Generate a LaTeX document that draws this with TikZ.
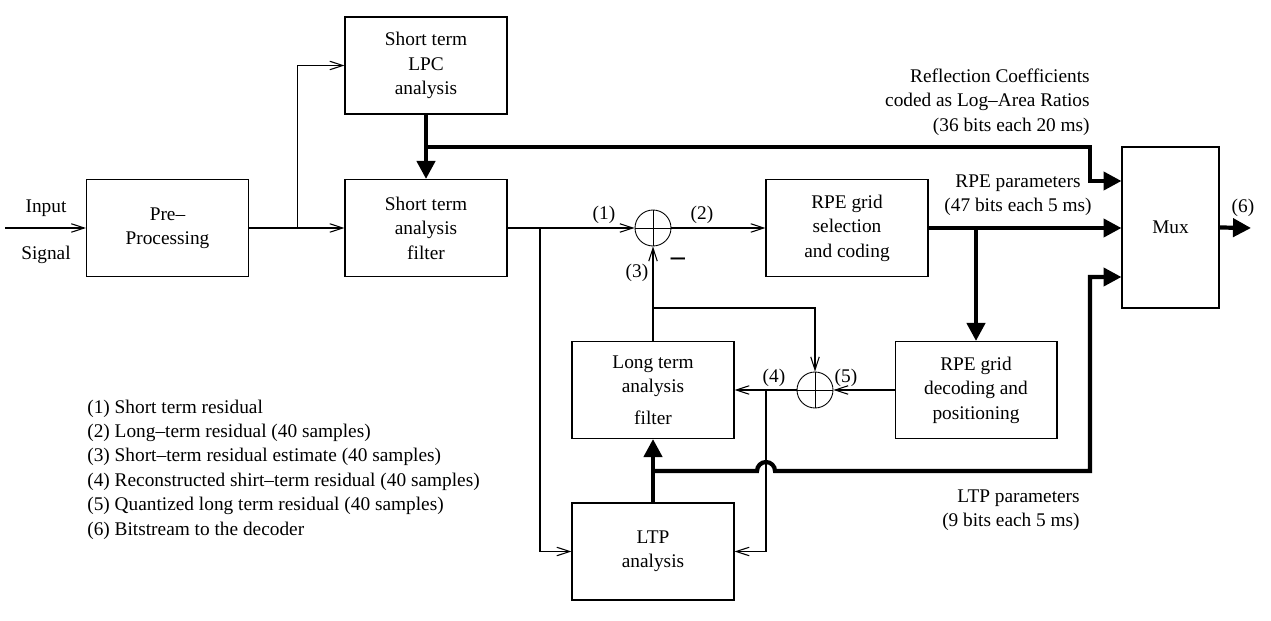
\documentclass[tikz,border=0pt]{standalone}
\usepackage{fontspec}
\setmainfont{Liberation Serif}
\usetikzlibrary{arrows.meta}

\begin{document}
\begin{tikzpicture}[
        x=0.02cm, y=-0.02cm,
        every node/.style={font=\fontsize{11}{13.9}\selectfont},
        block/.style={draw, line width=0.6pt, minimum width=3.24cm, minimum height=1.94cm, align=center, inner sep=0pt},
        summer/.style={draw, circle, line width=0.5pt, minimum size=0.72cm, inner sep=0pt,
            path picture={\draw[line width=0.5pt] (path picture bounding box.north) -- (path picture bounding box.south)
                (path picture bounding box.west) -- (path picture bounding box.east);}},
        sig/.style={line width=0.6pt, -{Straight Barb[length=0.26cm,width=0.17cm]}},
        busarr/.style={line width=2.4pt, -{Triangle[length=0.36cm,width=0.36cm]}},
    ]
    \useasboundingbox (0,0) rectangle (1271,621);

    % Blocks
    \node[block] (pre) at (167.5,228) {Pre--\\Processing};
    \node[block] (lpc) at (426,65.5) {Short term\\LPC\\analysis};
    \node[block] (stf) at (426,228) {Short term\\analysis\\filter};
    \node[block] (rpes) at (847,228) {RPE grid\\selection\\and coding};
    \node[block, minimum width=1.94cm, minimum height=3.22cm] (mux) at (1170.5,227.5) {Mux};
    \node[block] (ltf) at (653,390) {Long term\\analysis\\[4pt]filter};
    \node[block] (rped) at (976,390) {RPE grid\\decoding and\\positioning};
    \node[block] (ltp) at (653,551.5) {LTP\\analysis};

    % Adders
    \node[summer] (sum1) at (653,228) {};
    \node[summer] (sum2) at (815,390) {};

    % Branch points and free ends
    \coordinate (in) at (5,228);
    \coordinate (out) at (1251,228);
    \coordinate (b1) at (297.6,228);
    \coordinate (b2) at (540,228);
    \coordinate (b3) at (653,308);
    \coordinate (b4) at (766,390);
    \coordinate (b5) at (976,228);
    \coordinate (b6) at (653,471);
    \coordinate (t1) at (426,147);
    \coordinate (k1) at (1090,181);
    \coordinate (k2) at (1090,277);

    % Signal paths
    \draw[sig] (in) -- (pre.west);
    \draw[sig] (pre.east) -- (stf.west);
    \draw[sig] (b1) |- (lpc.west);
    \draw[sig] (stf.east) -- (sum1.west);
    \draw[sig] (b2) |- (ltp.west);
    \draw[sig] (sum1.east) -- (rpes.west);
    \draw[sig] (ltf.north) -- (sum1.south);
    \draw[sig] (b3) -| (sum2.north);
    \draw[sig] (sum2.west) -- (ltf.east);
    \draw[sig] (b4) |- (ltp.east);
    \draw[sig] (rped.west) -- (sum2.east);

    % Parameter paths
    \draw[busarr] (lpc.south) -- (stf.north);
    \draw[busarr] (t1) -| (k1) -- (k1 -| mux.west);
    \draw[busarr] (rpes.east) -- (rpes.east -| mux.west);
    \draw[busarr] (b5) -- (rped.north);
    \draw[busarr] (mux.east) -- (out);
    \draw[busarr] (ltp.north) -- (ltf.south);
    \draw[busarr] (b6) -- ([xshift=-0.18cm]b6 -| b4) arc[start angle=180, end angle=0, radius=0.18cm]
        -- (b6 -| k2) -- (k2) -- (k2 -| mux.west);

    % Signal labels
    \node (inlab) at (46,208) {Input};
    \node (siglab) at (46,255) {Signal};
    \node (n1) at (604,215) {(1)};
    \node (n2) at (702,215) {(2)};
    \node (n3) at (637,273) {(3)};
    \node (neg) at (678,262) {\fontsize{16}{16}\selectfont\bfseries --};
    \node (n4) at (774,378) {(4)};
    \node (n5) at (846,378) {(5)};
    \node (n6) at (1243,208) {(6)};

    % Parameter labels
    \node[align=right, anchor=east, inner sep=0pt] (rclab) at (1090,102) {Reflection Coefficients\\coded as Log--Area Ratios\\(36 bits each 20 ms)};
    \node[align=center, inner sep=0pt] (rpelab) at (1018,195) {RPE parameters\\(47 bits each 5 ms)};
    \node[align=right, anchor=east, inner sep=0pt] (ltplab) at (1080,510) {LTP parameters\\(9 bits each 5 ms)};

    % Legend
    \node[align=left, anchor=west, inner sep=0pt] (legend) at (87,469.5) {(1) Short term residual\\
        (2) Long--term residual (40 samples)\\
        (3) Short--term residual estimate (40 samples)\\
        (4) Reconstructed shirt--term residual (40 samples)\\
        (5) Quantized long term residual (40 samples)\\
        (6) Bitstream to the decoder};
\end{tikzpicture}
\end{document}
